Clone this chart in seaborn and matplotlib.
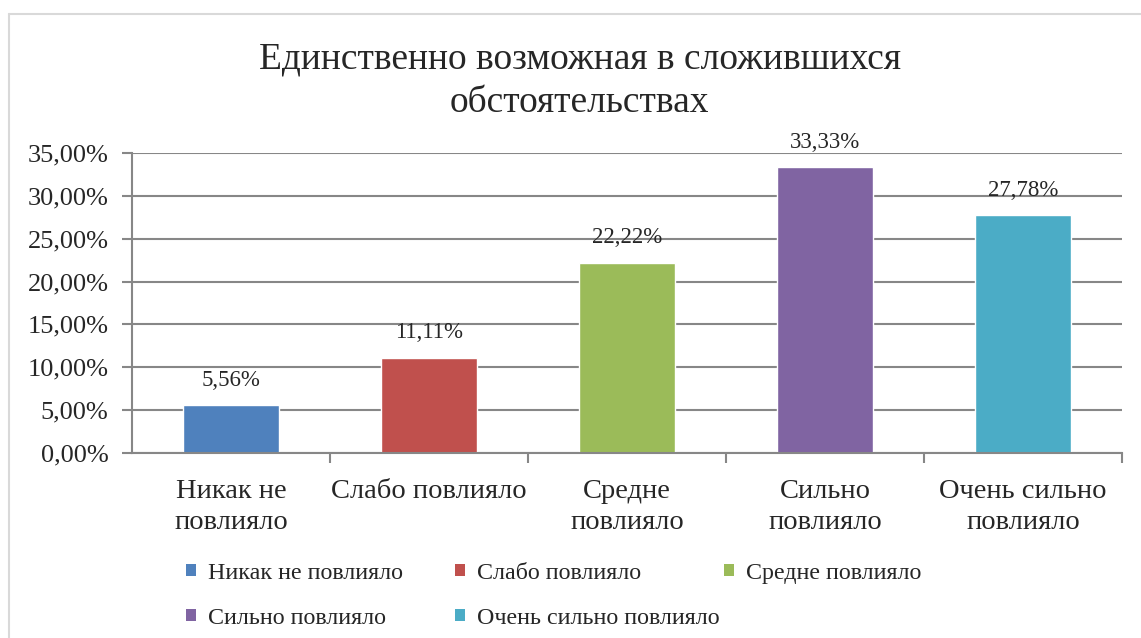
import pandas as pd
import matplotlib
matplotlib.use('Agg')
import matplotlib.pyplot as plt
import seaborn as sns
from matplotlib.lines import Line2D
from matplotlib.patches import Patch
from matplotlib.ticker import FuncFormatter, FixedLocator

categories = ['Никак не повлияло', 'Слабо повлияло', 'Средне повлияло',
              'Сильно повлияло', 'Очень сильно повлияло']
tick_labels = ['Никак не\nповлияло', 'Слабо повлияло', 'Средне\nповлияло',
               'Сильно\nповлияло', 'Очень сильно\nповлияло']
values = [5.56, 11.11, 22.22, 33.33, 27.78]
colors = ['#4F81BD', '#C0504D', '#9BBB59', '#8064A2', '#4BACC6']
title = 'Единственно возможная в сложившихся\nобстоятельствах'

df = pd.DataFrame({'cat': categories, 'val': values})

sns.set_style('white')
plt.rcParams['font.family'] = ['Liberation Serif', 'DejaVu Serif']

fig = plt.figure(figsize=(11.41, 6.38), dpi=100)
ax = fig.add_axes([132 / 1141, 1 - 453 / 638, 990 / 1141, 300 / 638])

sns.barplot(data=df, x='cat', y='val', hue='cat', palette=colors,
            dodge=False, width=0.48, legend=False, ax=ax, saturation=1)

ax.set_xlim(-0.5, 4.5)
ax.set_ylim(0, 35)
ax.set_yticks([0, 5, 10, 15, 20, 25, 30, 35])
ax.yaxis.set_major_formatter(FuncFormatter(lambda v, p: f'{v:.2f}%'.replace('.', ',')))
ax.grid(axis='y', color='#878787', linewidth=1.5)
ax.set_axisbelow(True)
for s in ['top', 'right']:
    ax.spines[s].set_visible(False)
for s in ['left', 'bottom']:
    ax.spines[s].set_color('#878787')
    ax.spines[s].set_linewidth(1.5)

ax.tick_params(axis='y', length=7, width=1.5, color='#878787', labelsize=19, pad=10, left=True)
ax.set_xticks(range(5))
ax.set_xticklabels(tick_labels, fontsize=20.5, linespacing=1.32)
ax.tick_params(axis='x', length=0, pad=19)
ax.xaxis.set_minor_locator(FixedLocator([0.5, 1.5, 2.5, 3.5, 4.5]))
ax.tick_params(axis='x', which='minor', length=7, width=1.5, color='#878787', bottom=True)
ax.set_xlabel('')
ax.set_ylabel('')

for i, v in enumerate(values):
    ax.text(i, v + 2.9, f'{v:.2f}%'.replace('.', ','), ha='center', va='center', fontsize=16.5)

fig.text(0.508, 1 - 81 / 638, title, ha='center', va='center', fontsize=27, linespacing=1.35)

# Excel-style legend: equal-width columns, filled row by row
columns = [[0, 3], [1, 4], [2]]
col_x = [186, 455, 724]
for idx, x in zip(columns, col_x):
    leg = fig.legend([Patch(facecolor=colors[i], edgecolor='none') for i in idx],
                     [categories[i] for i in idx],
                     loc='upper left', bbox_to_anchor=(x / 1141, 1 - 563 / 638),
                     frameon=False, fontsize=17.3, borderpad=0, borderaxespad=0,
                     handlelength=0.4, handleheight=0.4, handletextpad=0.5,
                     labelspacing=0.98)

fig.add_artist(Line2D([9 / 1141, 1], [1 - 14 / 638, 1 - 14 / 638], color='#D9D9D9', linewidth=1.5))
fig.add_artist(Line2D([9 / 1141, 9 / 1141], [0, 1 - 14 / 638], color='#D9D9D9', linewidth=1.5))

fig.savefig('out.png', dpi=100)
